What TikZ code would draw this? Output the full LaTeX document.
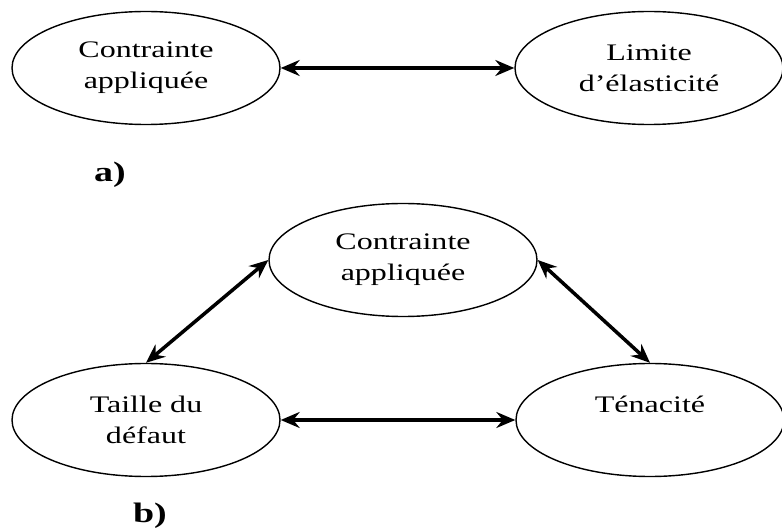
\documentclass[tikz,border=0pt]{standalone}
\usepackage{fontspec}
\setmainfont{Liberation Serif}[FakeStretch=1.35]
\usetikzlibrary{arrows.meta, positioning, shapes.geometric}

\begin{document}
\begin{tikzpicture}[
    bubble/.style={draw, line width=0.8pt, ellipse, minimum width=5.36cm, minimum height=2.26cm,
      inner sep=0pt, align=center, font=\fontsize{13.5}{17.6}\selectfont},
    link/.style={{Stealth[length=3.8mm,width=3.2mm,inset=1.3mm]}-{Stealth[length=3.8mm,width=3.2mm,inset=1.3mm]}, line width=2pt},
    tag/.style={font=\fontsize{16}{18}\selectfont\bfseries}]
    \useasboundingbox (0,0) rectangle (15.64,10.56);

    % a) stress against yield strength
    \node[bubble] (stressA) at (2.92,9.20) {Contrainte\\appliquée};
    \node[bubble] (yield) at (12.98,9.20) {Limite\\d’élasticité};
    \draw[link] (stressA) -- (yield);
    \node[tag] (labelA) at (2.2,7.06) {a)};

    % b) stress, flaw size and toughness
    \node[bubble] (stressB) at (8.06,5.36) {Contrainte\\appliquée};
    \node[bubble] (flaw) at (2.92,2.16) {Taille du\\défaut};
    \node[bubble] (tough) at (13.0,2.16) {Ténacité\\\mbox{}};
    \draw[link] (flaw.north) -- (stressB.west);
    \draw[link] (stressB.east) -- (tough.north);
    \draw[link] (flaw) -- (tough);
    \node[tag] (labelB) at (3.0,0.24) {b)};

  \end{tikzpicture}
\end{document}
